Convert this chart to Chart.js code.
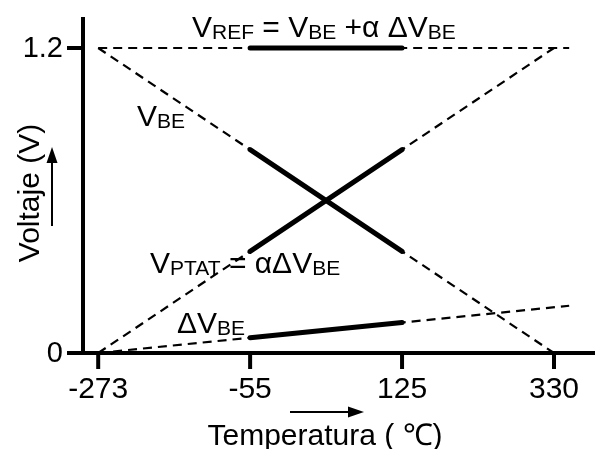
<!DOCTYPE html>
<html>
<head>
<meta charset="utf-8">
<style>
  html, body { margin: 0; padding: 0; background: #fff; }
  canvas { display: block; }
</style>
<script src="https://cdn.jsdelivr.net/npm/chart.js@4/dist/chart.umd.min.js"></script>
</head>
<body>
<canvas id="c" width="595" height="449"></canvas>
<script>
// Schematic temperature axis: the four reference temperatures are equally spaced.
const temperatureLabels = ['-273', '-55', '125', '330'];
const temperaturePositions = [0, 1, 2, 3];
const voltageTicks = [0, 1.2];
const voltageTickLabels = ['0', '1.2'];

// Each curve: full extrapolated line (dashed) and the operating range -55..125 (solid).
const vrefFull = [[0, 1.2], [3.1, 1.2]];
const vrefRange = [[1, 1.2], [2, 1.2]];
const vbeFull = [[0, 1.2], [3, 0]];
const vbeRange = [[1, 0.8], [2, 0.4]];
const vptatFull = [[0, 0], [3, 1.2]];
const vptatRange = [[1, 0.4], [2, 0.8]];
const dvbeFull = [[0, 0], [3.1, 0.186]];
const dvbeRange = [[1, 0.06], [2, 0.12]];

const toPts = arr => arr.map(([x, y]) => ({ x, y }));
const dashed = (data) => ({
  data: toPts(data), borderColor: '#000', borderWidth: 2.2, borderDash: [9, 6],
  pointRadius: 0, showLine: true, fill: false, borderCapStyle: 'butt'
});
const solid = (data) => ({
  data: toPts(data), borderColor: '#000', borderWidth: 5,
  pointRadius: 0, showLine: true, fill: false, borderCapStyle: 'round'
});

const FONT = '"Liberation Sans", Arial, Helvetica, sans-serif';

function drawFormula(ctx, x, y, parts, big, small) {
  // parts: [text, isSubscript]
  let cx = x;
  for (const [t, sub] of parts) {
    ctx.font = (sub ? small : big) + 'px ' + FONT;
    ctx.fillText(t, cx, sub ? y + 2 : y);
    cx += ctx.measureText(t).width;
  }
}

function arrow(ctx, x1, y1, x2, y2) {
  const ang = Math.atan2(y2 - y1, x2 - x1);
  const hl = 16, hw = 5.5;
  ctx.lineWidth = 2;
  ctx.beginPath();
  ctx.moveTo(x1, y1);
  ctx.lineTo(x2 - hl * Math.cos(ang), y2 - hl * Math.sin(ang));
  ctx.stroke();
  ctx.beginPath();
  ctx.moveTo(x2, y2);
  ctx.lineTo(x2 - hl * Math.cos(ang) - hw * Math.sin(ang), y2 - hl * Math.sin(ang) + hw * Math.cos(ang));
  ctx.lineTo(x2 - hl * Math.cos(ang) + hw * Math.sin(ang), y2 - hl * Math.sin(ang) - hw * Math.cos(ang));
  ctx.closePath();
  ctx.fill();
}

const axesPlugin = {
  id: 'schematicAxes',
  afterDraw(chart) {
    const { ctx, scales: { x, y }, chartArea: a } = chart;
    ctx.save();
    ctx.strokeStyle = '#000';
    ctx.fillStyle = '#000';
    ctx.lineCap = 'butt';
    ctx.lineWidth = 4;
    const y0 = y.getPixelForValue(0);
    // axis lines
    ctx.beginPath();
    ctx.moveTo(a.left, a.top);
    ctx.lineTo(a.left, y0 + 2);
    ctx.moveTo(a.left - 16, y0);
    ctx.lineTo(a.right, y0);
    ctx.stroke();
    // y ticks
    ctx.textAlign = 'right';
    ctx.textBaseline = 'middle';
    ctx.font = '29px ' + FONT;
    voltageTicks.forEach((v, i) => {
      const py = y.getPixelForValue(v);
      ctx.beginPath();
      ctx.moveTo(a.left - 16, py);
      ctx.lineTo(a.left, py);
      ctx.stroke();
      ctx.fillText(voltageTickLabels[i], a.left - 20, py + 1);
    });
    // x ticks
    ctx.textAlign = 'center';
    ctx.textBaseline = 'alphabetic';
    ctx.font = '30px ' + FONT;
    temperaturePositions.forEach((p, i) => {
      const px = x.getPixelForValue(p);
      ctx.beginPath();
      ctx.moveTo(px, y0);
      ctx.lineTo(px, y0 + 16);
      ctx.stroke();
      ctx.fillText(temperatureLabels[i], px, y0 + 45);
    });
    // axis titles
    ctx.fillText('Temperatura ( \u2103)', 325, 445);
    ctx.save();
    ctx.translate(39, 193);
    ctx.rotate(-Math.PI / 2);
    ctx.fillText('Voltaje (V)', 0, 0);
    ctx.restore();
    arrow(ctx, 290, 412, 364, 412);
    arrow(ctx, 52, 226, 52, 147);
    // curve labels
    ctx.textAlign = 'left';
    drawFormula(ctx, 192, 37, [['V', 0], ['REF', 1], [' = V', 0], ['BE', 1], [' +\u03b1 \u0394V', 0], ['BE', 1]], 30, 21);
    drawFormula(ctx, 137, 126, [['V', 0], ['BE', 1]], 30, 21);
    drawFormula(ctx, 150, 273, [['V', 0], ['PTAT', 1], [' = \u03b1\u0394V', 0], ['BE', 1]], 30, 21);
    drawFormula(ctx, 177, 333, [['\u0394V', 0], ['BE', 1]], 30, 21);
    ctx.restore();
  }
};

new Chart(document.getElementById('c'), {
  type: 'scatter',
  data: {
    datasets: [
      dashed(vrefFull), solid(vrefRange),
      dashed(vbeFull), solid(vbeRange),
      dashed(vptatFull), solid(vptatRange),
      dashed(dvbeFull), solid(dvbeRange)
    ]
  },
  options: {
    responsive: false,
    animation: false,
    layout: { padding: { left: 83, right: 0, top: 17, bottom: 96 } },
    plugins: { legend: { display: false }, tooltip: { enabled: false } },
    scales: {
      x: { type: 'linear', display: false, min: -0.1, max: 3.27 },
      y: { type: 'linear', display: false, min: 0, max: 1.322 }
    }
  },
  plugins: [axesPlugin]
});
</script>
</body>
</html>
